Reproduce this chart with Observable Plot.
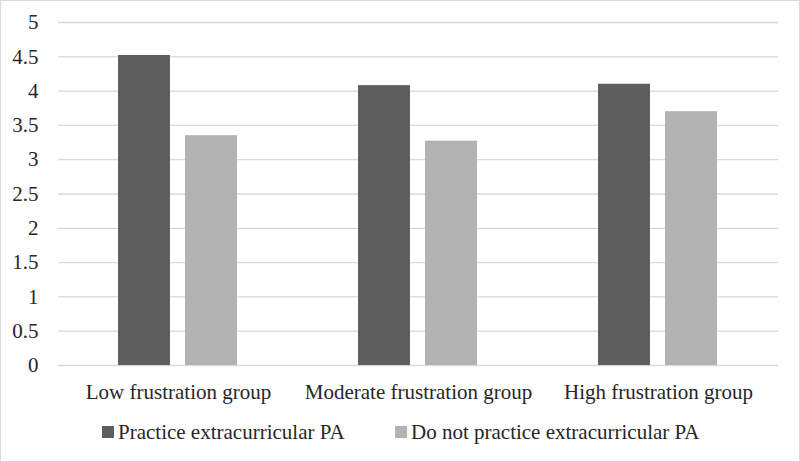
<!DOCTYPE html>
<html>
<head>
<meta charset="utf-8">
<script src="https://cdn.jsdelivr.net/npm/d3@7"></script>
<script src="https://cdn.jsdelivr.net/npm/@observablehq/plot@0.6"></script>
<style>
  body { margin: 0; background: #fff; }
  #wrap { position: relative; width: 800px; height: 462px; background: #fff; font-family: "Liberation Serif", "DejaVu Serif", serif; color: #262626; }
  #frame { position: absolute; left: 0; top: 0; width: 800px; height: 462px; box-sizing: border-box; border: 1px solid #d9d9d9; pointer-events: none; }
  #chart { position: absolute; left: 0; top: 0; }
  #legend { position: absolute; left: 0; top: 420px; width: 800px; height: 24px; font-size: 21px; line-height: 24px; }
  .item { position: absolute; top: 0; display: flex; align-items: center; white-space: nowrap; }
  .sw { width: 12px; height: 12px; margin-right: 4px; display: inline-block; }
  #chart svg, #chart svg text { font-family: "Liberation Serif", "DejaVu Serif", serif !important; }
</style>
</head>
<body>
<div id="wrap">
  <div id="chart"></div>
  <div id="legend"></div>
  <div id="frame"></div>
</div>
<script>
const groups = ["Low frustration group", "Moderate frustration group", "High frustration group"];
const seriesNames = ["Practice extracurricular PA", "Do not practice extracurricular PA"];
const practiceValues = [4.52, 4.08, 4.10];
const notPracticeValues = [3.35, 3.27, 3.70];
const yTicks = [0, 0.5, 1, 1.5, 2, 2.5, 3, 3.5, 4, 4.5, 5];
const colors = ["#5f5f5f", "#b2b2b2"];

const data = [];
groups.forEach((g, i) => {
  data.push({group: g, series: seriesNames[0], value: practiceValues[i]});
  data.push({group: g, series: seriesNames[1], value: notPracticeValues[i]});
});

const chart = Plot.plot({
  width: 800,
  height: 405,
  marginLeft: 58,
  marginRight: 22,
  marginTop: 22,
  marginBottom: 40,
  style: { fontFamily: "Liberation Serif, DejaVu Serif, serif", fontSize: "21px", color: "#262626", background: "transparent" },
  fx: { domain: groups, padding: 0, label: null },
  x: { domain: seriesNames, axis: null, paddingInner: 0.22, paddingOuter: 0.875 },
  y: { domain: [0, 5], label: null },
  color: { domain: seriesNames, range: colors },
  marks: [
    Plot.ruleY(yTicks, { stroke: "#d9d9d9", strokeWidth: 1.3 }),
    Plot.barY(data, { fx: "group", x: "series", y: "value", fill: "series" }),
    Plot.axisY(yTicks, { tickSize: 0, tickPadding: 20, tickFormat: d => String(d), label: null, fontSize: 21 }),
    Plot.axisFx({ anchor: "bottom", tickSize: 0, tickPadding: 19, label: null, fontSize: 21 })
  ]
});
document.getElementById("chart").appendChild(chart);

const legend = document.getElementById("legend");
const legendX = [102, 395];
seriesNames.forEach((s, i) => {
  const item = document.createElement("div");
  item.className = "item";
  item.style.left = legendX[i] + "px";
  const sw = document.createElement("span");
  sw.className = "sw";
  sw.style.background = colors[i];
  const t = document.createElement("span");
  t.textContent = s;
  item.appendChild(sw);
  item.appendChild(t);
  legend.appendChild(item);
});
</script>
</body>
</html>
